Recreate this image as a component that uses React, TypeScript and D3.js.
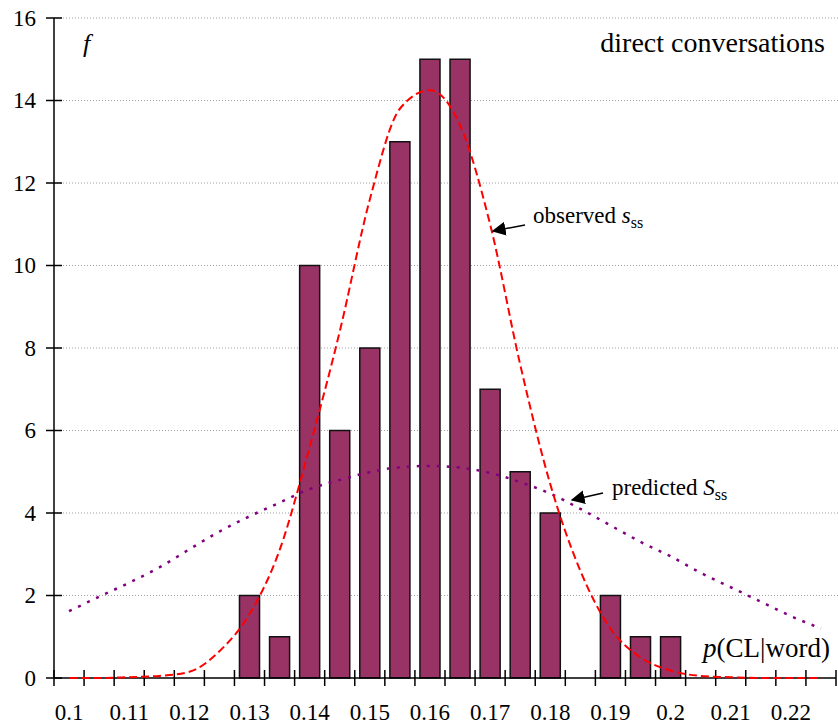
import React, { useEffect, useRef } from 'react';
import * as d3 from 'd3';

// bin centres of p(CL|word)
const categories = [
  '0.1', '0.105', '0.11', '0.115', '0.12', '0.125', '0.13', '0.135', '0.14',
  '0.145', '0.15', '0.155', '0.16', '0.165', '0.17', '0.175', '0.18', '0.185',
  '0.19', '0.195', '0.2', '0.205', '0.21', '0.215', '0.22', '0.225',
];

// frequency f per bin (histogram)
const frequency = [
  0, 0, 0, 0, 0, 0, 2, 1, 10, 6, 8, 13, 15, 15, 7, 5, 4, 0, 2, 1, 1, 0, 0, 0, 0, 0,
];

// observed s_ss (red dashed)
const observed = [
  0, 0, 0.02, 0.05, 0.15, 0.65, 1.55, 3.1, 5.6, 8.4, 11.6, 13.8, 14.25, 13.4,
  11.0, 7.6, 4.7, 2.6, 1.2, 0.5, 0.18, 0.05, 0.02, 0, 0, 0,
];

// predicted S_ss (purple dotted)
const predicted = [
  1.62, 1.97, 2.31, 2.68, 3.12, 3.55, 3.92, 4.25, 4.58, 4.8, 4.99, 5.11, 5.14,
  5.1, 4.97, 4.75, 4.47, 4.1, 3.7, 3.3, 2.95, 2.55, 2.2, 1.85, 1.5, 1.2,
];

const xTickLabels = ['0.1', '0.11', '0.12', '0.13', '0.14', '0.15', '0.16', '0.17', '0.18', '0.19', '0.2', '0.21', '0.22'];
const yTicks = [0, 2, 4, 6, 8, 10, 12, 14, 16];

const FONT = '"Liberation Serif", "Times New Roman", serif';

function App() {
  const svgRef = useRef<SVGSVGElement>(null);

  useEffect(() => {
    if (!svgRef.current) return;

    const width = 838;
    const height = 724;
    const left = 54;
    const right = 836;
    const top = 18;
    const bottom = 678;

    const svg = d3.select(svgRef.current);
    svg.selectAll('*').remove();
    svg.attr('width', width).attr('height', height);

    const x = d3.scaleBand<string>().domain(categories).range([left, right]).padding(0);
    const y = d3.scaleLinear().domain([0, 16]).range([bottom, top]);
    const step = x.step();
    const cx = (c: string) => (x(c) as number) + step / 2;

    // gridlines
    svg.append('g')
      .selectAll('line')
      .data(yTicks.filter(d => d > 0))
      .join('line')
      .attr('x1', left)
      .attr('x2', width)
      .attr('y1', d => y(d))
      .attr('y2', d => y(d))
      .attr('stroke', '#a0a0a0')
      .attr('stroke-width', 1)
      .attr('stroke-dasharray', '1,2');

    // bars
    svg.append('g')
      .selectAll('rect')
      .data(categories.map((c, i) => ({ c, v: frequency[i] })).filter(d => d.v > 0))
      .join('rect')
      .attr('x', d => (x(d.c) as number) + step / 6)
      .attr('width', step * 2 / 3)
      .attr('y', d => y(d.v))
      .attr('height', d => y(0) - y(d.v))
      .attr('fill', '#993366')
      .attr('stroke', '#111')
      .attr('stroke-width', 1.5);

    // axes
    const axes = svg.append('g').attr('stroke', '#000').attr('stroke-width', 1.5);
    axes.append('line').attr('x1', left).attr('x2', left).attr('y1', top).attr('y2', bottom);
    axes.append('line').attr('x1', left).attr('x2', right).attr('y1', bottom).attr('y2', bottom);
    axes.selectAll('.yt')
      .data(yTicks)
      .join('line')
      .attr('class', 'yt')
      .attr('x1', left - 8)
      .attr('x2', left + 8)
      .attr('y1', d => y(d))
      .attr('y2', d => y(d));
    const bounds = categories.map(c => x(c) as number).concat([right]);
    axes.selectAll('.xt')
      .data(bounds)
      .join('line')
      .attr('class', 'xt')
      .attr('x1', d => d)
      .attr('x2', d => d)
      .attr('y1', bottom - 8)
      .attr('y2', bottom + 8);

    svg.append('g')
      .selectAll('text')
      .data(yTicks)
      .join('text')
      .attr('x', 36)
      .attr('y', d => y(d))
      .attr('dy', '0.34em')
      .attr('text-anchor', 'end')
      .attr('font-family', FONT)
      .attr('font-size', 23)
      .text(d => d);

    svg.append('g')
      .selectAll('text')
      .data(xTickLabels)
      .join('text')
      .attr('x', d => cx(categories.find(c => +c === +d) as string))
      .attr('y', 720)
      .attr('text-anchor', 'middle')
      .attr('font-family', FONT)
      .attr('font-size', 23)
      .text(d => d);

    // curves
    const line = (vals: number[]) => d3.line<number>()
      .x((_, i) => cx(categories[i]))
      .y(d => y(d))
      .curve(d3.curveMonotoneX)(vals);

    svg.append('path')
      .attr('d', line(predicted))
      .attr('fill', 'none')
      .attr('stroke', '#800080')
      .attr('stroke-width', 2.5)
      .attr('stroke-dasharray', '3,7');

    svg.append('path')
      .attr('d', line(observed))
      .attr('fill', 'none')
      .attr('stroke', '#ff0000')
      .attr('stroke-width', 2)
      .attr('stroke-dasharray', '8,4');

    // arrows
    const defs = svg.append('defs');
    defs.append('marker')
      .attr('id', 'arrowhead')
      .attr('viewBox', '0 0 10 10')
      .attr('refX', 9)
      .attr('refY', 5)
      .attr('markerWidth', 14)
      .attr('markerHeight', 14)
      .attr('markerUnits', 'userSpaceOnUse')
      .attr('orient', 'auto')
      .append('path')
      .attr('d', 'M0,0 L10,5 L0,10 Z')
      .attr('fill', '#000');

    const arrows = [
      { x1: 525, y1: 225, x2: 493, y2: 231 },
      { x1: 603, y1: 493, x2: 572, y2: 500 },
    ];
    svg.append('g')
      .selectAll('line')
      .data(arrows)
      .join('line')
      .attr('x1', d => d.x1)
      .attr('y1', d => d.y1)
      .attr('x2', d => d.x2)
      .attr('y2', d => d.y2)
      .attr('stroke', '#000')
      .attr('stroke-width', 1.5)
      .attr('marker-end', 'url(#arrowhead)');

    // labels
    const obs = svg.append('text')
      .attr('x', 533)
      .attr('y', 223)
      .attr('font-family', FONT)
      .attr('font-size', 23);
    obs.append('tspan').text('observed ');
    obs.append('tspan').attr('font-style', 'italic').text('s');
    obs.append('tspan').attr('font-size', 16).attr('dy', 5).text('ss');

    const pred = svg.append('text')
      .attr('x', 612)
      .attr('y', 495)
      .attr('font-family', FONT)
      .attr('font-size', 23);
    pred.append('tspan').text('predicted ');
    pred.append('tspan').attr('font-style', 'italic').text('S');
    pred.append('tspan').attr('font-size', 16).attr('dy', 5).text('ss');

    svg.append('text')
      .attr('x', 825)
      .attr('y', 52)
      .attr('text-anchor', 'end')
      .attr('font-family', FONT)
      .attr('font-size', 28)
      .text('direct conversations');

    svg.append('text')
      .attr('x', 83)
      .attr('y', 52)
      .attr('font-family', FONT)
      .attr('font-style', 'italic')
      .attr('font-size', 26)
      .text('f');

    const xl = svg.append('text')
      .attr('x', 830)
      .attr('y', 657)
      .attr('text-anchor', 'end')
      .attr('font-family', FONT)
      .attr('font-size', 27);
    xl.append('tspan').attr('font-style', 'italic').text('p');
    xl.append('tspan').text('(CL|word)');
  }, []);

  return (
    <div>
      <svg ref={svgRef} style={{ position: 'absolute', left: 0, top: 0 }}></svg>
    </div>
  );
}

export default App;
